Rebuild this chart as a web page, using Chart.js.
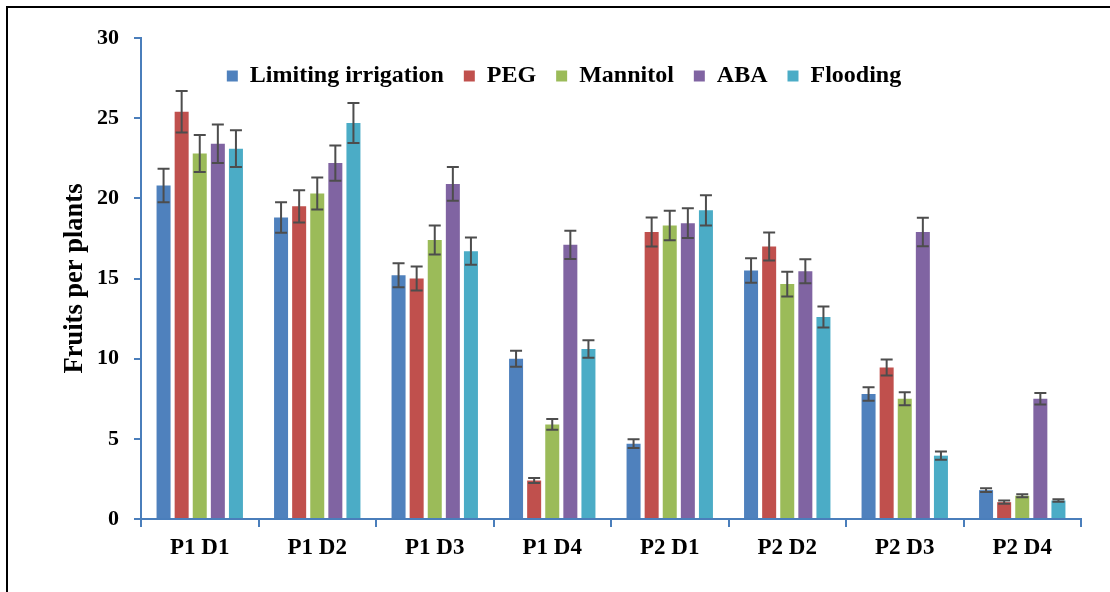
<!DOCTYPE html>
<html><head><meta charset="utf-8">
<script src="https://cdn.jsdelivr.net/npm/chart.js@4.4.0/dist/chart.umd.min.js"></script>
<style>html,body{margin:0;padding:0;background:#fff;}canvas{display:block;}</style>
</head><body>
<canvas id="c" width="1110" height="592"></canvas>
<script>
const categories = ['P1 D1','P1 D2','P1 D3','P1 D4','P2 D1','P2 D2','P2 D3','P2 D4'];
const seriesNames = ['Limiting irrigation','PEG','Mannitol','ABA','Flooding'];
const limiting    = [20.8, 18.8, 15.2, 10.0, 4.7, 15.5, 7.8, 1.8];
const limitingErr = [1.05, 0.95, 0.75, 0.5, 0.27, 0.77, 0.42, 0.12];
const peg         = [25.4, 19.5, 15.0, 2.4, 17.9, 17.0, 9.45, 1.05];
const pegErr      = [1.3, 1.0, 0.75, 0.15, 0.9, 0.87, 0.5, 0.1];
const mannitol    = [22.8, 20.3, 17.4, 5.9, 18.3, 14.65, 7.5, 1.45];
const mannitolErr = [1.15, 1.0, 0.9, 0.33, 0.92, 0.77, 0.4, 0.1];
const aba         = [23.4, 22.2, 20.9, 17.1, 18.45, 15.45, 17.9, 7.5];
const abaErr      = [1.2, 1.1, 1.05, 0.88, 0.93, 0.75, 0.89, 0.36];
const flooding    = [23.1, 24.7, 16.7, 10.6, 19.25, 12.6, 3.95, 1.15];
const floodingErr = [1.15, 1.25, 0.85, 0.55, 0.95, 0.65, 0.26, 0.08];
const yTickStep = 5, yMin = 0, yMax = 30;
const colors = ['#4F81BD','#C0504D','#9BBB59','#8064A2','#4BACC6'];
const axisColor = '#4A7EBB';
const FONT = "'Liberation Serif', 'Times New Roman', serif";

const values = [limiting, peg, mannitol, aba, flooding];
const errs = [limitingErr, pegErr, mannitolErr, abaErr, floodingErr];

const frame = {
  id: 'frame',
  beforeDraw(chart) {
    const ctx = chart.ctx;
    ctx.save();
    ctx.fillStyle = '#fff';
    ctx.fillRect(0, 0, chart.width, chart.height);
    ctx.strokeStyle = '#000';
    ctx.lineWidth = 2;
    ctx.beginPath();
    ctx.moveTo(7, chart.height + 2);
    ctx.lineTo(7, 7);
    ctx.lineTo(chart.width + 2, 7);
    ctx.stroke();
    ctx.restore();
    const lg = chart.legend;
    lg.top = 44; lg.bottom = 114;
    lg.left = 0; lg.right = 1128;
  }
};

const legendFix = {
  id: 'legendFix',
  beforeInit(chart) {
    const lg = chart.legend;
    const orig = lg.fit;
    lg.fit = function () { orig.call(this); this.height = 0; };
  }
};

const errorBars = {
  id: 'errorBars',
  afterDatasetsDraw(chart) {
    const ctx = chart.ctx, y = chart.scales.y;
    ctx.save();
    ctx.strokeStyle = '#4d4d4d';
    ctx.lineWidth = 2;
    chart.data.datasets.forEach((ds, i) => {
      const meta = chart.getDatasetMeta(i);
      meta.data.forEach((bar, j) => {
        const v = ds.data[j], e = ds.errors[j];
        const yt = y.getPixelForValue(v + e), yb = y.getPixelForValue(v - e);
        ctx.beginPath();
        ctx.moveTo(bar.x, yt); ctx.lineTo(bar.x, yb);
        ctx.moveTo(bar.x - 6, yt); ctx.lineTo(bar.x + 6, yt);
        ctx.moveTo(bar.x - 6, yb); ctx.lineTo(bar.x + 6, yb);
        ctx.stroke();
      });
    });
    ctx.restore();
  }
};

new Chart(document.getElementById('c'), {
  type: 'bar',
  data: {
    labels: categories,
    datasets: seriesNames.map((n, i) => ({
      label: n,
      data: values[i],
      errors: errs[i],
      backgroundColor: colors[i],
      borderWidth: 0,
      categoryPercentage: 0.77,
      barPercentage: 0.774
    }))
  },
  options: {
    responsive: false,
    animation: false,
    layout: { padding: { left: 0, right: 29, top: 38, bottom: 0 } },
    plugins: {
      tooltip: { enabled: false },
      legend: {
        position: 'top',
        labels: {
          color: '#000',
          font: { family: FONT, size: 24, weight: 'bold' },
          boxWidth: 11, boxHeight: 11, padding: 20
        }
      }
    },
    scales: {
      x: {
        offset: true,
        grid: { display: true, drawOnChartArea: false, drawTicks: true, tickLength: 8, color: axisColor, lineWidth: 2, offset: true },
        border: { display: true, color: axisColor, width: 2 },
        ticks: { color: '#000', font: { family: FONT, size: 23, weight: 'bold' }, padding: 7, maxRotation: 0, autoSkip: false },
        afterFit(s) { s.height = 73; }
      },
      y: {
        min: yMin, max: yMax,
        ticks: { stepSize: yTickStep, color: '#000', font: { family: FONT, size: 22, weight: 'bold' }, padding: 15 },
        grid: { display: true, drawOnChartArea: false, drawTicks: true, tickLength: 7, color: axisColor, lineWidth: 2 },
        border: { display: true, color: axisColor, width: 2 },
        title: { display: true, text: 'Fruits per plants', color: '#000', font: { family: FONT, size: 26.5, weight: 'bold' }, padding: { top: 59, bottom: 0 } },
        afterFit(s) { s.width = 141; }
      }
    }
  },
  plugins: [legendFix, frame, errorBars]
});
</script>
</body></html>
